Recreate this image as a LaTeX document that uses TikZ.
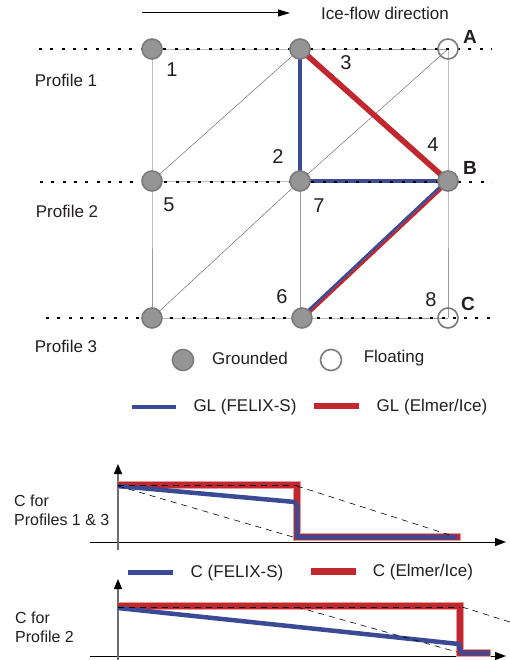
\documentclass[tikz,border=0pt]{standalone}
\usepackage{fontspec}
\setmainfont{Liberation Sans}
\usetikzlibrary{arrows.meta,backgrounds}
\definecolor{glblue}{HTML}{3B4A94}
\definecolor{glred}{HTML}{C1272D}
\definecolor{glredhalo}{HTML}{E59A9D}
\definecolor{txt}{HTML}{231F20}
\definecolor{gnd}{HTML}{959595}
\definecolor{gndb}{HTML}{7B7B7B}
\definecolor{gridc}{HTML}{9A9A9A}
\begin{document}
\begin{tikzpicture}[x=1pt,y=-1pt,
  gnode/.style={circle,fill=gnd,draw=gndb,line width=1.6pt,minimum size=20pt,inner sep=0pt},
  fnode/.style={circle,draw=gndb,line width=1.6pt,minimum size=20pt,inner sep=0pt},
  numlbl/.style={text=txt,font=\fontsize{20}{22}\selectfont,inner sep=0pt},
  letlbl/.style={text=txt,font=\bfseries\fontsize{19}{21}\selectfont,inner sep=0pt},
  txtlbl/.style={text=txt,font=\fontsize{17}{19}\selectfont,inner sep=0pt},
  clbl/.style={text=txt,font=\fontsize{16}{18}\selectfont,inner sep=0pt,anchor=west},
  gridline/.style={draw=gridc,line width=0.8pt},
  diagline/.style={draw=gray!80!black,line width=0.45pt},
  profdots/.style={draw=black,line width=2.7pt,dash pattern=on 3pt off 8.3pt},
  bluel/.style={draw=glblue,line width=3.3pt},
  redl/.style={draw=glred,line width=5.6pt},
  axis/.style={draw=black,line width=1pt,-{Triangle[length=11pt,width=8pt]}},
  yaxis/.style={draw=gray!85!black,line width=1.3pt,-{Triangle[length=10pt,width=8pt,color=black]}},
  cdash/.style={draw=black,line width=0.6pt,dash pattern=on 6pt off 5pt},
  cred/.style={draw=glred,line width=6pt,line join=miter,line cap=butt},
  credhalo/.style={draw=glredhalo,line width=7.5pt,line join=miter,line cap=butt},
  cblue/.style={draw=glblue,line width=4.5pt,line join=round,line cap=butt}
]
\useasboundingbox (0,0) rectangle (510,660);

% ---- flow direction
\coordinate (fa) at (142,13);
\coordinate (fb) at (290,13);
\draw[line width=1pt,-{Triangle[length=12pt,width=7pt]}] (fa) -- (fb);
\node[txtlbl] (flow) at (385,13) {Ice-flow direction};

% ---- mesh nodes
\node[gnode] (n1) at (152,49) {};
\node[gnode] (n2) at (300,49) {};
\node[fnode] (nA) at (448,49) {};
\node[gnode] (n5) at (152,181) {};
\node[gnode] (n7) at (300,181) {};
\node[gnode] (nB) at (448,181) {};
\node[gnode] (n9) at (152,318) {};
\node[gnode] (n6) at (302,318) {};
\node[fnode] (nC) at (448,318) {};

\coordinate (d1a) at (39,49);  \coordinate (d1b) at (492,49);
\coordinate (d2a) at (40,182); \coordinate (d2b) at (492,182);
\coordinate (d3a) at (46,318); \coordinate (d3b) at (497,318);

\begin{pgfonlayer}{background}
  \fill[white] (0,0) rectangle (510,660);
  % grid
  \draw[gridline] (n1.center) -- (n2.center) -- (nA.center);
  \draw[gridline] (n5.center) -- (n7.center) -- (nB.center);
  \draw[gridline] (n9.center) -- (n6.center) -- (nC.center);
  \draw[gridline] (n1.center) -- (n5.center) -- (n9.center);
  \draw[gridline] (n2.center) -- (n7.center);
  \draw[gridline] (n7.center) -- (n7.center |- n6.center);
  \draw[gridline] (nA.center) -- (nB.center) -- (nC.center);
  \draw[diagline] (n5.center) -- (n2.center);
  \draw[diagline] (n7.center) -- (nA.center);
  \draw[diagline] (n9.center) -- (n7.center);
  % grounding lines
  \draw[redl] (n2.center) -- (nB.center);
  \draw[bluel,line join=miter] (n2.center) -- (n7.center) -- (nB.center);
  \draw[draw=glred,line width=2.6pt] ([shift={(0.9,0.9)}]n6.center) -- ([shift={(0.9,0.9)}]nB.center);
  \draw[draw=glblue,line width=2.6pt] ([shift={(-0.9,-0.9)}]n6.center) -- ([shift={(-0.9,-0.9)}]nB.center);
  % profile dotted lines
  \draw[profdots] (d1a) -- (d1b);
  \draw[profdots] (d2a) -- (d2b);
  \draw[profdots] (d3a) -- (d3b);
\end{pgfonlayer}

% ---- labels
\node[numlbl] (l1) at (172,70) {1};
\node[numlbl] (l3) at (346,63) {3};
\node[numlbl] (l2) at (278,157) {2};
\node[numlbl] (l4) at (433,145) {4};
\node[numlbl] (l5) at (169,205) {5};
\node[numlbl] (l7) at (319,206) {7};
\node[numlbl] (l6) at (282,297) {6};
\node[numlbl] (l8) at (431,300) {8};
\node[letlbl] (lA) at (470,37) {A};
\node[letlbl] (lB) at (470,168) {B};
\node[letlbl] (lC) at (468,304) {C};

\node[txtlbl] (p1) at (66,80) {Profile 1};
\node[txtlbl] (p2) at (67,211) {Profile 2};
\node[txtlbl] (p3) at (66,346) {Profile 3};

% ---- legend (node types)
\node[gnode,minimum size=21pt] (lg) at (183,360) {};
\node[txtlbl] (lgt) at (250,358) {Grounded};
\node[fnode,minimum size=21pt] (lf) at (331,360) {};
\node[txtlbl] (lft) at (394,358) {Floating};

% ---- legend (GL)
\coordinate (gb1) at (132,407); \coordinate (gb2) at (176,407);
\draw[draw=glblue,line width=4.5pt] (gb1) -- (gb2);
\node[txtlbl] (gbt) at (245,407) {GL (FELIX-S)};
\coordinate (gr1) at (314,406); \coordinate (gr2) at (359,406);
\draw[draw=glred,line width=6.5pt] (gr1) -- (gr2);
\node[txtlbl] (grt) at (432,407) {GL (Elmer/Ice)};

% ---- chart 1
\draw[axis] (90,542) -- (506,542);
\draw[yaxis] (118,550) -- (118,464);
\draw[credhalo] (118,485) -- (297,485) -- (297,537) -- (461,537);
\draw[cred] (118,485) -- (297,485) -- (297,537) -- (460,537);
\draw[cblue] (118,486) -- (295,502) -- (297,506) -- (297,537) -- (457,537);
\draw[cdash] (118,485) -- (297,485);
\draw[cdash] (297,486) -- (453,536);
\draw[cdash] (118,486) -- (293,537);
\node[clbl] (c1a) at (14,501) {C for};
\node[clbl] (c1b) at (14,520) {Profiles 1 \& 3};

% ---- legend (C)
\coordinate (cb1) at (128,572); \coordinate (cb2) at (173,572);
\draw[draw=glblue,line width=5pt] (cb1) -- (cb2);
\node[txtlbl] (cbt) at (237,573) {C (FELIX-S)};
\coordinate (cr1) at (311,571); \coordinate (cr2) at (356,571);
\draw[draw=glred,line width=7pt] (cr1) -- (cr2);
\node[txtlbl] (crt) at (423,572) {C (Elmer/Ice)};

% ---- chart 2
\draw[axis] (90,656) -- (506,656);
\draw[yaxis] (118,662) -- (118,579);
\draw[credhalo] (118,606) -- (460,606) -- (460,653) -- (491,653);
\draw[cred] (118,606) -- (460,606) -- (460,653) -- (490,653);
\draw[cblue] (118,608) -- (459,644) -- (461,653) -- (490,653);
\draw[cdash] (118,607) -- (460,607);
\draw[cdash] (297,607) -- (457,652);
\draw[cdash] (462,607) -- (510,622);
\node[clbl] (c2a) at (15,618) {C for};
\node[clbl] (c2b) at (15,637) {Profile 2};
\end{tikzpicture}
\end{document}
